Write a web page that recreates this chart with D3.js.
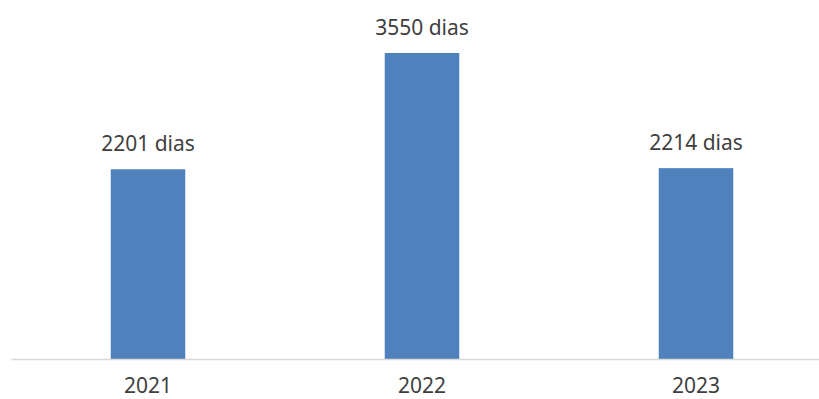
<!DOCTYPE html>
<html>
<head>
<meta charset="utf-8">
<script src="https://cdn.jsdelivr.net/npm/d3@7"></script>
<style>
  html, body { margin: 0; padding: 0; background: #fff; }
  svg { display: block; }
  text { font-family: "Noto Sans", "Open Sans", sans-serif; fill: #404040; }
</style>
</head>
<body>
<svg id="chart" width="819" height="399"></svg>
<script>
// Days per year
const years = ["2021", "2022", "2023"];
const days = [2201, 3550, 2214];
const unit = "dias";

const W = 819, H = 399;
const plot = { left: 11, right: 833, top: 0, baseline: 359 };

const svg = d3.select("#chart");

const x = d3.scaleBand()
  .domain(years)
  .range([plot.left, plot.right])
  .paddingInner(0.728)
  .paddingOuter(0.364);

const y = d3.scaleLinear()
  .domain([0, 4000])
  .range([plot.baseline, plot.baseline - 4000 * 0.0862]);

// Bars
svg.append("g")
  .selectAll("rect")
  .data(years)
  .join("rect")
  .attr("x", d => x(d))
  .attr("width", x.bandwidth())
  .attr("y", (d, i) => y(days[i]))
  .attr("height", (d, i) => y(0) - y(days[i]))
  .attr("fill", "#4F81BD");

// Category axis
const axis = svg.append("g")
  .attr("transform", `translate(0,${plot.baseline})`)
  .call(d3.axisBottom(x).tickSize(0).tickPadding(0));
axis.select(".domain").attr("stroke", "#D9D9D9").attr("stroke-width", 1.5);
axis.selectAll("text")
  .attr("dy", null)
  .attr("y", 34)
  .attr("font-size", 21)
  .attr("font-family", "\"Noto Sans\", \"Open Sans\", sans-serif")
  .attr("fill", "#595959");

// Value labels
svg.append("g")
  .selectAll("text")
  .data(years)
  .join("text")
  .attr("x", d => x(d) + x.bandwidth() / 2)
  .attr("y", (d, i) => y(days[i]) - 18)
  .attr("text-anchor", "middle")
  .attr("font-size", 21)
  .text((d, i) => `${days[i]} ${unit}`);
</script>
</body>
</html>
